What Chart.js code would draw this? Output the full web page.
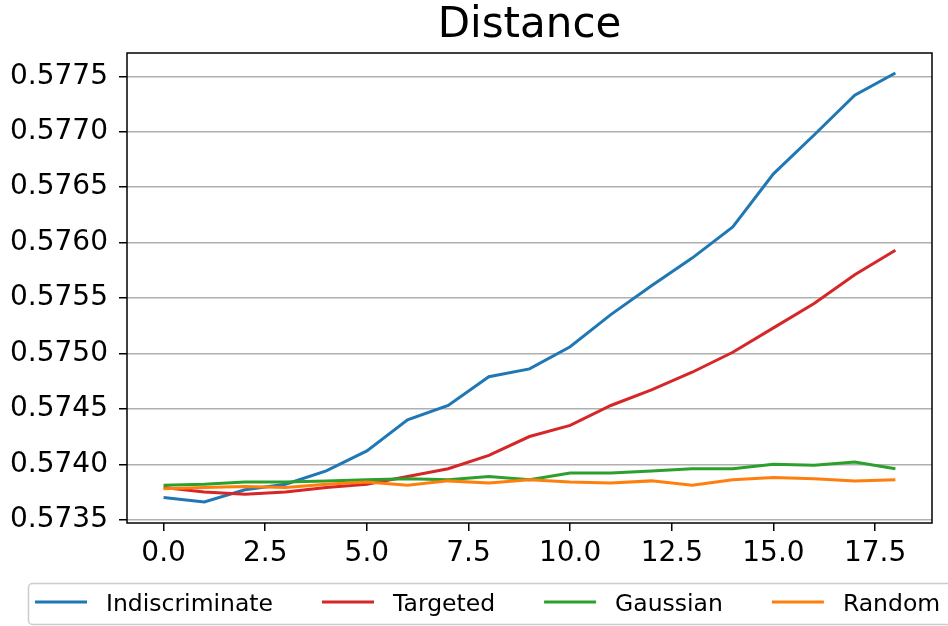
<!DOCTYPE html>
<html>
<head>
<meta charset="utf-8">
<script src="https://cdn.jsdelivr.net/npm/chart.js@4.4.1/dist/chart.umd.min.js"></script>
<style>
  html, body { margin: 0; padding: 0; background: #fff; }
  #wrap { width: 948px; height: 626px; }
</style>
</head>
<body>
<div id="wrap"><canvas id="chart" width="948" height="626"></canvas></div>
<script>
// Distance per step for four perturbation strategies
var steps = [0, 1, 2, 3, 4, 5, 6, 7, 8, 9, 10, 11, 12, 13, 14, 15, 16, 17, 18];
var indiscriminate = [0.57370, 0.57366, 0.57377, 0.57382, 0.57394, 0.57412, 0.57440, 0.57453, 0.57479, 0.57486,
  0.57506, 0.57535, 0.57561, 0.57586, 0.57614, 0.57662, 0.57697, 0.57733, 0.57753];
var targeted = [0.57379, 0.57375, 0.57373, 0.57375, 0.57379, 0.57382, 0.57389, 0.57396, 0.57408, 0.57425,
  0.57435, 0.57453, 0.57467, 0.57483, 0.57501, 0.57523, 0.57545, 0.57571, 0.57593];
var gaussian = [0.57381, 0.57382, 0.57384, 0.57384, 0.57385, 0.57386, 0.57387, 0.57386, 0.57389, 0.57386,
  0.57392, 0.57392, 0.57394, 0.57396, 0.57396, 0.57400, 0.57399, 0.57402, 0.57396];
var random = [0.57378, 0.57379, 0.57380, 0.57379, 0.57382, 0.57384, 0.57381, 0.57385, 0.57383, 0.57386,
  0.57384, 0.57383, 0.57385, 0.57381, 0.57386, 0.57388, 0.57387, 0.57385, 0.57386];
var seriesNames = ['Indiscriminate', 'Targeted', 'Gaussian', 'Random'];
var seriesColors = ['#1f77b4', '#d62728', '#2ca02c', '#ff7f0e'];
var xTicks = [0, 2.5, 5, 7.5, 10, 12.5, 15, 17.5];
var yTicks = [0.5735, 0.5740, 0.5745, 0.5750, 0.5755, 0.5760, 0.5765, 0.5770, 0.5775];
var chartTitle = 'Distance';

var FONT = '"DejaVu Sans", sans-serif';

function points(values) {
  var arr = [];
  for (var i = 0; i < values.length; i++) arr.push({ x: steps[i], y: values[i] });
  return arr;
}

// matplotlib-like frame, title and a legend box below the axes
var decor = {
  id: 'decor',
  afterDatasetsDraw: function (chart) {
    var ctx = chart.ctx, a = chart.chartArea;
    ctx.save();
    ctx.strokeStyle = '#000';
    ctx.lineWidth = 1.5;
    ctx.strokeRect(a.left, a.top, a.right - a.left, a.bottom - a.top);
    ctx.restore();
  },
  afterDraw: function (chart) {
    var ctx = chart.ctx, a = chart.chartArea;
    ctx.save();
    ctx.fillStyle = '#000';
    ctx.font = '42px ' + FONT;
    ctx.textAlign = 'center';
    ctx.textBaseline = 'alphabetic';
    ctx.fillText(chartTitle, (a.left + a.right) / 2, 37);

    // legend
    ctx.beginPath();
    ctx.roundRect(28.5, 583.5, 940, 41, 4);
    ctx.fillStyle = '#fff';
    ctx.fill();
    ctx.strokeStyle = '#cccccc';
    ctx.lineWidth = 1.5;
    ctx.stroke();

    ctx.font = '23.5px ' + FONT;
    ctx.textAlign = 'left';
    var x = 35, y = 602;
    for (var i = 0; i < seriesNames.length; i++) {
      ctx.beginPath();
      ctx.moveTo(x, y);
      ctx.lineTo(x + 52, y);
      ctx.strokeStyle = seriesColors[i];
      ctx.lineWidth = 3;
      ctx.stroke();
      ctx.fillStyle = '#000';
      ctx.fillText(seriesNames[i], x + 71, 611);
      x += 71 + ctx.measureText(seriesNames[i]).width + 49;
    }
    ctx.restore();
  }
};

var allSeries = [indiscriminate, targeted, gaussian, random];
var datasets = allSeries.map(function (vals, i) {
  return {
    label: seriesNames[i],
    data: points(vals),
    borderColor: seriesColors[i],
    backgroundColor: seriesColors[i],
    borderWidth: 3,
    pointRadius: 0,
    tension: 0,
    fill: false,
    order: allSeries.length - i
  };
});

new Chart(document.getElementById('chart').getContext('2d'), {
  type: 'line',
  data: { datasets: datasets },
  options: {
    responsive: false,
    animation: false,
    events: [],
    layout: { padding: { left: 0, right: 16, top: 53, bottom: 0 } },
    plugins: { legend: { display: false }, title: { display: false }, tooltip: { enabled: false } },
    scales: {
      x: {
        type: 'linear',
        min: -0.9,
        max: 18.9,
        afterBuildTicks: function (axis) {
          axis.ticks = xTicks.map(function (v) { return { value: v }; });
        },
        afterFit: function (axis) { axis.height = 103; },
        ticks: {
          color: '#000',
          font: { family: FONT, size: 28 },
          padding: 6,
          maxRotation: 0,
          autoSkip: false,
          callback: function (v) { return Number(v).toFixed(1); }
        },
        grid: { drawOnChartArea: false, drawTicks: true, tickLength: 8, tickColor: '#000', lineWidth: 1.5 },
        border: { display: false }
      },
      y: {
        type: 'linear',
        min: 0.57347,
        max: 0.57771,
        afterBuildTicks: function (axis) {
          axis.ticks = yTicks.map(function (v) { return { value: v }; });
        },
        afterFit: function (axis) { axis.width = 127; },
        ticks: {
          color: '#000',
          font: { family: FONT, size: 28 },
          padding: 11,
          autoSkip: false,
          callback: function (v) { return Number(v).toFixed(4); }
        },
        grid: { color: '#b0b0b0', lineWidth: 1.5, drawTicks: true, tickLength: 8, tickColor: '#000' },
        border: { display: false }
      }
    }
  },
  plugins: [decor]
});
</script>
</body>
</html>
